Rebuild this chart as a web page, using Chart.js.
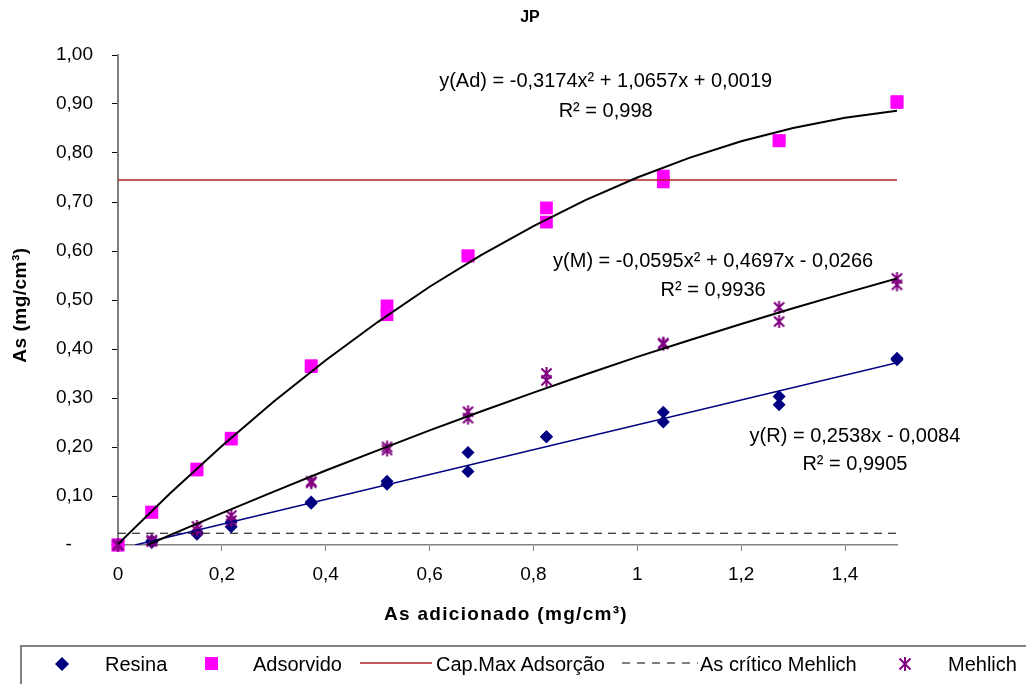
<!DOCTYPE html>
<html>
<head>
<meta charset="utf-8">
<script src="https://cdn.jsdelivr.net/npm/chart.js@4.4.0/dist/chart.umd.min.js"></script>
<style>
html,body{margin:0;padding:0;background:#fff;}
#wrap{position:relative;width:1026px;height:684px;overflow:hidden;background:#fff;}
#c{position:absolute;left:0;top:0;}
#legendBox{position:absolute;left:20px;top:645px;width:1020px;height:60px;border:2px solid #808080;box-sizing:border-box;}
.lt{position:absolute;top:654px;line-height:20px;font-size:20px;font-family:"Liberation Sans",Arial,sans-serif;color:#000;white-space:nowrap;}
.lm{position:absolute;}
</style>
</head>
<body>
<div id="wrap">
  <canvas id="c" width="1026" height="684"></canvas>
  <div id="legendBox"></div>
  <svg class="lm" style="left:55px;top:657px" width="14" height="14"><polygon points="7,0 14,7 7,14 0,7" fill="#000080"/></svg>
  <span class="lt" style="left:105px">Resina</span>
  <svg class="lm" style="left:205px;top:657px" width="13" height="13"><rect x="0" y="0" width="13" height="13" fill="#FF00FF"/></svg>
  <span class="lt" style="left:253px">Adsorvido</span>
  <svg class="lm" style="left:360px;top:658px" width="72" height="10"><line x1="0" y1="5" x2="72" y2="5" stroke="#B22222" stroke-width="1.5"/></svg>
  <span class="lt" style="left:436px">Cap.Max Adsorção</span>
  <svg class="lm" style="left:622px;top:658px" width="76" height="10"><line x1="0" y1="5" x2="76" y2="5" stroke="#000" stroke-width="1" stroke-dasharray="8,7"/></svg>
  <span class="lt" style="left:700px">As crítico Mehlich</span>
  <svg class="lm" style="left:898px;top:657px" width="14" height="14"><g stroke="#800080" stroke-width="2"><line x1="7" y1="0" x2="7" y2="14"/><line x1="1.5" y1="1.5" x2="12.5" y2="12.5"/><line x1="12.5" y1="1.5" x2="1.5" y2="12.5"/></g></svg>
  <span class="lt" style="left:948px">Mehlich</span>
</div>
<script>
// ---- data ----
const xAdded   = [0, 0.065, 0.152, 0.218, 0.372, 0.518, 0.674, 0.825, 1.05, 1.273, 1.5];
const resina1  = [0, 0.005, 0.022, 0.037, 0.085, 0.124, 0.150, 0.221, 0.251, 0.286, 0.378];
const resina2  = [0, 0.008, 0.026, 0.047, 0.088, 0.130, 0.189, 0.221, 0.271, 0.303, 0.381];
const adsorv1  = [0, 0.067, 0.153, 0.216, 0.364, 0.470, 0.590, 0.659, 0.741, 0.825, 0.903];
const adsorv2  = [0, 0.067, 0.155, 0.218, 0.366, 0.488, 0.590, 0.688, 0.753, 0.825, 0.905];
const mehlich1 = [0, 0.007, 0.030, 0.050, 0.127, 0.194, 0.259, 0.336, 0.410, 0.456, 0.531];
const mehlich2 = [0, 0.010, 0.038, 0.060, 0.130, 0.200, 0.272, 0.350, 0.412, 0.485, 0.544];

const capMaxX = [0, 1.5];
const capMaxY = [0.745, 0.745];
const critX   = [0, 1.5];
const critY   = [0.024, 0.024];

// trend lines
const trendAdX = [0, 0.1, 0.2, 0.3, 0.4, 0.5, 0.6, 0.7, 0.8, 0.9, 1.0, 1.1, 1.2, 1.3, 1.4, 1.5];
const trendAdY = [0.002, 0.105, 0.202, 0.293, 0.377, 0.455, 0.527, 0.592, 0.651, 0.704, 0.750, 0.790, 0.824, 0.851, 0.872, 0.886];
const trendMX  = [0.057, 0.1, 0.2, 0.3, 0.4, 0.5, 0.6, 0.7, 0.8, 0.9, 1.0, 1.1, 1.2, 1.3, 1.4, 1.5];
const trendMY  = [0, 0.020, 0.065, 0.109, 0.152, 0.193, 0.234, 0.273, 0.311, 0.348, 0.384, 0.418, 0.451, 0.483, 0.514, 0.544];
const trendRX  = [0.033, 1.5];
const trendRY  = [0, 0.372];

const xTickVals = [0, 0.2, 0.4, 0.6, 0.8, 1, 1.2, 1.4];

const eqTexts = [
  {text: 'y(Ad) = -0,3174x² + 1,0657x + 0,0019', x: 0.939, y: 0.945},
  {text: 'R² = 0,998', x: 0.939, y: 0.884},
  {text: 'y(M) = -0,0595x² + 0,4697x - 0,0266', x: 1.146, y: 0.578},
  {text: 'R² = 0,9936', x: 1.146, y: 0.520},
  {text: 'y(R) = 0,2538x - 0,0084', x: 1.419, y: 0.222},
  {text: 'R² = 0,9905', x: 1.419, y: 0.165}
];

function pts(xs, ys) { return xs.map((x, i) => ({x: x, y: ys[i]})); }
function pairs(xs, a, b) { return pts(xs, a).concat(pts(xs, b)); }

function makeStar(size, color, lw) {
  const c = document.createElement('canvas');
  c.width = size; c.height = size;
  const g = c.getContext('2d');
  g.strokeStyle = color; g.lineWidth = lw;
  const m = size / 2, r = size / 2 - 1, d = r * 0.78;
  g.beginPath();
  g.moveTo(m, m - r); g.lineTo(m, m + r);
  g.moveTo(m - d, m - d); g.lineTo(m + d, m + d);
  g.moveTo(m + d, m - d); g.lineTo(m - d, m + d);
  g.stroke();
  return c;
}
const starImg = makeStar(15, '#800080', 2);

const FONT = '"Liberation Sans", Arial, sans-serif';
Chart.defaults.font.family = FONT;
Chart.defaults.font.size = 19;
Chart.defaults.color = '#000';

const textPlugin = {
  id: 'texts',
  afterDraw(chart) {
    const ctx = chart.ctx;
    const xs = chart.scales.x, ys = chart.scales.y;
    ctx.save();
    ctx.fillStyle = '#000';
    ctx.textAlign = 'center';
    ctx.textBaseline = 'middle';
    ctx.font = 'bold 16px ' + FONT;
    ctx.fillText('JP', 530, 18);
    ctx.font = 'bold 19px ' + FONT;
    ctx.letterSpacing = '1.3px';
    ctx.fillText('As adicionado (mg/cm³)', 506, 615);
    ctx.letterSpacing = '0.5px';
    ctx.save();
    ctx.translate(21, 305);
    ctx.rotate(-Math.PI / 2);
    ctx.fillText('As (mg/cm³)', 0, 0);
    ctx.restore();
    ctx.letterSpacing = '0px';
    ctx.font = '20px ' + FONT;
    eqTexts.forEach(t => {
      ctx.fillText(t.text, xs.getPixelForValue(t.x), ys.getPixelForValue(t.y));
    });
    ctx.restore();
  }
};

new Chart(document.getElementById('c'), {
  type: 'scatter',
  data: {
    datasets: [
      {label: 'trendAd', data: pts(trendAdX, trendAdY), showLine: true, borderColor: '#000', borderWidth: 2, pointRadius: 0, tension: 0, order: 0},
      {label: 'trendM', data: pts(trendMX, trendMY), showLine: true, borderColor: '#000', borderWidth: 2, pointRadius: 0, tension: 0, order: 0},
      {label: 'trendR', data: pts(trendRX, trendRY), showLine: true, borderColor: '#000080', borderWidth: 1.5, pointRadius: 0, tension: 0, order: 0},
      {label: 'Resina', data: pairs(xAdded, resina1, resina2), pointStyle: 'rectRot', pointRadius: 6.5, backgroundColor: '#000080', borderColor: '#000080', borderWidth: 0, order: 4, clip: false},
      {label: 'Adsorvido', data: pairs(xAdded, adsorv1, adsorv2), pointStyle: 'rect', pointRadius: 9, backgroundColor: '#FF00FF', borderColor: '#FF00FF', borderWidth: 0, order: 3, clip: false},
      {label: 'Cap.Max Adsorção', data: pts(capMaxX, capMaxY), showLine: true, borderColor: '#B22222', borderWidth: 1.5, pointRadius: 0, order: 1},
      {label: 'As crítico Mehlich', data: pts(critX, critY), showLine: true, borderColor: '#000', borderWidth: 1, borderDash: [8, 6], pointRadius: 0, order: 1},
      {label: 'Mehlich', data: pairs(xAdded, mehlich1, mehlich2), pointStyle: starImg, pointRadius: 7, order: 2, clip: false}
    ]
  },
  options: {
    responsive: false,
    animation: false,
    events: [],
    layout: {padding: {left: 0, top: 55, right: 129, bottom: 99}},
    plugins: {legend: {display: false}, tooltip: {enabled: false}, title: {display: false}},
    scales: {
      x: {
        type: 'linear', min: 0, max: 1.5,
        afterBuildTicks(scale) { scale.ticks = xTickVals.map(v => ({value: v})); },
        afterFit(scale) { scale.height = 40; },
        ticks: {
          padding: 12,
          callback: v => String(Number(v.toFixed(1))).replace('.', ',')
        },
        grid: {drawOnChartArea: false, drawTicks: true, tickLength: 6, color: '#808080'},
        border: {color: '#808080', width: 1.5}
      },
      y: {
        type: 'linear', min: 0, max: 1,
        afterFit(scale) { scale.width = 118; },
        ticks: {
          stepSize: 0.1, padding: 19,
          callback: v => (Math.abs(v) < 1e-9 ? '-    ' : v.toFixed(2).replace('.', ','))
        },
        grid: {drawOnChartArea: false, drawTicks: true, tickLength: 6, color: '#000'},
        border: {color: '#808080', width: 2}
      }
    }
  },
  plugins: [textPlugin]
});
</script>
</body>
</html>
